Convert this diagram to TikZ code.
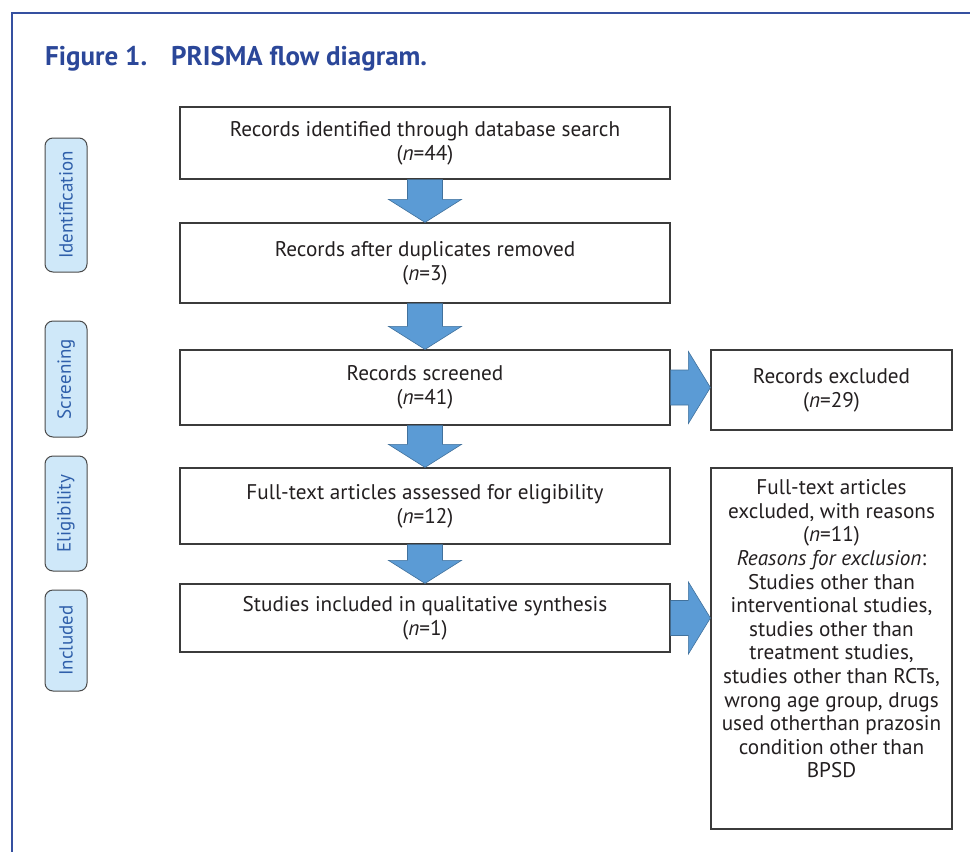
\documentclass[tikz,border=0pt]{standalone}
\usepackage{fontspec}
\setmainfont{PT Sans}
\usepackage{xcolor}
\usepackage{tikz}
\usetikzlibrary{calc}
\usetikzlibrary{positioning}
\definecolor{framec}{HTML}{3550A0}
\definecolor{titlec}{HTML}{2B4799}
\definecolor{stagec}{HTML}{CFE8F9}
\definecolor{stagetext}{HTML}{2F5FAA}
\definecolor{stageedge}{HTML}{4A4A4A}
\definecolor{arrowc}{HTML}{5B9BD5}
\definecolor{arrowedge}{HTML}{41719C}
\definecolor{boxedge}{HTML}{3B3B3B}
\definecolor{boxtext}{HTML}{231F20}
% block arrows between boxes
\newcommand{\downblock}[2]{%
\path[BlockArrow] let \p1=(#1.south), \p2=(#2.north) in
(\x1-17.5pt,\y1) -- (\x1+17.5pt,\y1) -- (\x1+17.5pt,\y2+23pt) -- (\x1+36.5pt,\y2+23pt)
-- (\x1,\y2) -- (\x1-36.5pt,\y2+23pt) -- (\x1-17.5pt,\y2+23pt) -- cycle}
\newcommand{\rightblock}[2]{%
\path[BlockArrow] let \p1=(#1.east), \p2=(#2.west) in
(\x1,\y1+17.5pt) -- (\x2-22pt,\y1+17.5pt) -- (\x2-22pt,\y1+36pt) -- (\x2,\y1)
-- (\x2-22pt,\y1-36pt) -- (\x2-22pt,\y1-17.5pt) -- (\x1,\y1-17.5pt) -- cycle}
\newcommand{\nn}[1]{(\textit{n}=#1)}

\begin{document}
\begin{tikzpicture}[
x=1pt, y=-1pt,
MainBox/.style={draw=boxedge,line width=1.2pt,fill=white,minimum width=490pt,align=center,text=boxtext,font=\fontsize{21.2}{23.8}\selectfont},
SideBox/.style={MainBox,minimum width=241pt},
Stage/.style={draw=stageedge,fill=stagec,line width=1pt,rounded corners=8pt,rotate=90,minimum height=42pt,inner sep=0pt,text=stagetext,font=\fontsize{19}{20}\selectfont},
BlockArrow/.style={fill=arrowc,draw=arrowedge,line width=0.6pt,line join=miter}
]
\useasboundingbox (0,0) rectangle (970,852);

% frame and title
\draw[framec,line width=2pt] (12,852) -- (12,13) -- (970,13);
\node[anchor=base west,inner sep=0pt,text=titlec,font=\bfseries\fontsize{27}{30}\selectfont] (title) at (45,65) {Figure 1.\hspace{24pt}PRISMA flow diagram.};

% stages
\node[Stage,minimum width=134pt] (stIdent) at (66,205) {Identification};
\node[Stage,minimum width=116pt] (stScreen) at (66,379) {Screening};
\node[Stage,minimum width=115pt] (stElig) at (66,513.5) {Eligibility};
\node[Stage,minimum width=101pt] (stIncl) at (66,640.5) {Included};

% main column
\node[MainBox,minimum height=72pt] (ident) at (425,143) {Records identified through database search\\\nn{44}};
\node[MainBox,minimum height=80pt] (dupl) at (425,263) {Records after duplicates removed\\\nn{3}};
\node[MainBox,minimum height=75pt] (screen) at (425,387.5) {Records screened\\\nn{41}};
\node[MainBox,minimum height=76pt] (elig) at (425,506) {Full-text articles assessed for eligibility\\\nn{12}};
\node[MainBox,minimum height=68pt] (incl) at (425,618) {Studies included in qualitative synthesis\\\nn{1}};

% exclusions
\node[SideBox,minimum height=80pt] (excl) at (831.5,390) {Records excluded\\\nn{29}};
\node[SideBox,minimum height=361pt] (fullx) at (831.5,648.5) {};
\node[anchor=north,inner sep=0pt,align=center,text=boxtext,font=\fontsize{21.2}{23.6}\selectfont] (reasons) at ([yshift=-12pt]fullx.north)
{Full-text articles\\excluded, with reasons\\\nn{11}\\\textit{Reasons for exclusion}:\\Studies other than\\interventional studies,\\studies other than\\treatment studies,\\studies other than RCTs,\\wrong age group, drugs\\used otherthan prazosin\\condition other than\\BPSD};

% arrows
\downblock{ident}{dupl};
\downblock{dupl}{screen};
\downblock{screen}{elig};
\downblock{elig}{incl};
\rightblock{screen}{excl};
\rightblock{incl}{fullx};

\end{tikzpicture}
\end{document}
